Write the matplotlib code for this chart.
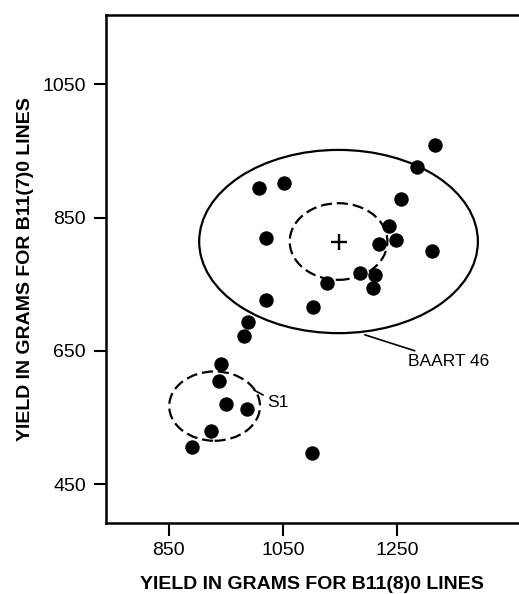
import matplotlib.pyplot as plt
from matplotlib.patches import Ellipse

plt.rcParams['font.family'] = ['Liberation Sans', 'DejaVu Sans']

# === Data ===
yield_b118 = [1316, 1285, 1007, 1051, 1256, 1236, 1020, 1217, 1248, 1310,
              1185, 1211, 1208, 1127, 1020, 1103, 989, 982, 941, 937,
              950, 986, 924, 890, 1101]
yield_b117 = [959, 926, 895, 902, 878, 838, 820, 811, 816, 800,
              767, 764, 745, 752, 726, 716, 693, 672, 630, 604,
              570, 563, 530, 505, 496]

baart_center = (1147, 814)
baart_outer = (488, 275)     # width, height
baart_inner = (171, 115)
s1_center = (930, 567)
s1_size = (159, 104)

x_ticks = [850, 1050, 1250]
y_ticks = [450, 650, 850, 1050]

# === Plot ===
fig = plt.figure(figsize=(5.19, 5.94), dpi=100)
ax = fig.add_axes([0.2033, 0.120, 0.7967, 0.8548])

ax.scatter(yield_b118, yield_b117, s=108, color='black', zorder=3, linewidths=0)

ax.add_patch(Ellipse(baart_center, *baart_outer, fill=False, lw=1.6, color='black'))
ax.add_patch(Ellipse(baart_center, *baart_inner, fill=False, lw=1.6, color='black',
                     linestyle=(0, (5, 2.2))))
ax.add_patch(Ellipse(s1_center, *s1_size, fill=False, lw=1.6, color='black',
                     linestyle=(0, (5, 2.2))))
ax.plot(*baart_center, marker='+', ms=11, mew=1.7, color='black')

# leader labels
ax.annotate("BAART 46", xy=(1193, 674), xytext=(1268, 634), fontsize=12.5,
            va='center', ha='left',
            arrowprops=dict(arrowstyle='-', lw=1.2, color='black', shrinkA=1, shrinkB=0))
ax.annotate("S1", xy=(999, 591), xytext=(1022, 572), fontsize=12.5,
            va='center', ha='left',
            arrowprops=dict(arrowstyle='-', lw=1.2, color='black', shrinkA=1, shrinkB=0))

ax.set_xlim(739, 1463)
ax.set_ylim(392, 1154)
ax.set_xticks(x_ticks)
ax.set_yticks(y_ticks)
ax.tick_params(direction='out', length=9, width=1.5, labelsize=14, pad=5)
for side in ['left', 'bottom', 'top']:
    ax.spines[side].set_linewidth(1.8)
ax.spines['right'].set_visible(False)

ax.set_xlabel("YIELD IN GRAMS FOR B11(8)0 LINES", fontsize=14, fontweight='bold', labelpad=12)
ax.set_ylabel("YIELD IN GRAMS FOR B11(7)0 LINES", fontsize=14, fontweight='bold', labelpad=6)

plt.savefig("out.png", dpi=100)
plt.close()
